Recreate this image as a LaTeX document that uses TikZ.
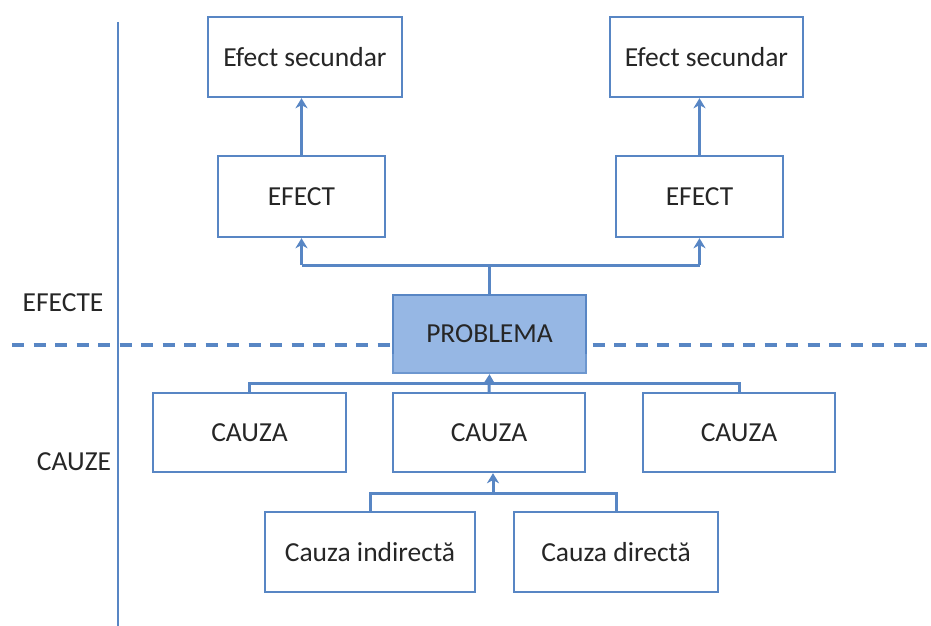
\documentclass[tikz,border=0pt]{standalone}
\usepackage{fontspec}
\setmainfont{Carlito}
\usetikzlibrary{arrows.meta}
\definecolor{lineblue}{RGB}{88,134,196}
\definecolor{probfill}{RGB}{150,183,228}
\definecolor{txt}{RGB}{38,38,38}
\tikzset{
  box/.style={draw=lineblue, line width=2.4pt, fill=white, inner sep=0pt,
    font=\fontsize{27.5}{32}\selectfont, text=txt},
  conn/.style={draw=lineblue, line width=3pt},
  arr/.style={conn, -{Stealth[length=10pt,width=12pt,inset=3pt]}},
  lbl/.style={font=\fontsize{27.5}{32}\selectfont, text=txt, inner sep=0pt}
}
\begin{document}
\begin{tikzpicture}[x=1pt,y=-1pt]
\useasboundingbox[fill=white] (0,0) rectangle (931,626);
% axes
\draw[lineblue, line width=2.6pt] (118,22) -- (118,626);
\draw[lineblue, line width=3.2pt, dash pattern=on 12pt off 9.5pt] (12,345) -- (931,345);
\node[lbl] (efecte) at (63,303) {EFECTE};
\node[lbl] (cauze) at (74,462) {CAUZE};
% boxes
\node[box, minimum width=194pt, minimum height=80pt] (es1) at (305,57) {Efect secundar};
\node[box, minimum width=193pt, minimum height=80pt] (es2) at (706.5,57) {Efect secundar};
\node[box, minimum width=167pt, minimum height=81pt] (ef1) at (301.5,196.5) {EFECT};
\node[box, minimum width=167pt, minimum height=81pt] (ef2) at (699.5,196.5) {EFECT};
\node[box, fill=probfill, minimum width=193pt, minimum height=78pt] (pr) at (489.5,334) {PROBLEMA};
\node[box, minimum width=193pt, minimum height=79pt] (c1) at (249.5,432.5) {CAUZA};
\node[box, minimum width=192pt, minimum height=79pt] (c2) at (489,432.5) {CAUZA};
\node[box, minimum width=192pt, minimum height=79pt] (c3) at (739,432.5) {CAUZA};
\node[box, minimum width=210pt, minimum height=80pt] (ci) at (370,552) {Cauza indirectă};
\node[box, minimum width=204pt, minimum height=80pt] (cd) at (616,552) {Cauza directă};
% reflection under PROBLEMA
\fill[probfill, fill opacity=0.35] (pr.south west) rectangle ([yshift=20pt]pr.south east);
% connectors
\coordinate (topbar) at (489.5,265);
\coordinate (lowbar) at (489,383);
\coordinate (botbar) at (493,493);
\draw[arr] (ef1.north) -- (ef1.north |- es1.south);
\draw[arr] (ef2.north) -- (ef2.north |- es2.south);
\draw[conn] (pr.north) -- (topbar);
\draw[arr] (topbar -| ef1.north) -- (ef1.south);
\draw[arr] (topbar -| ef2.north) -- (ef2.south);
\draw[conn] (topbar -| ef1.north) -- (topbar -| ef2.north);
\draw[conn] (c1.north) |- (lowbar) -| (c3.north);
\draw[arr] (c2.north) -- (pr.south);
\draw[conn] (ci.north) |- (botbar) -| (cd.north);
\draw[arr] (botbar) -- (botbar |- c2.south);
\end{tikzpicture}
\end{document}
